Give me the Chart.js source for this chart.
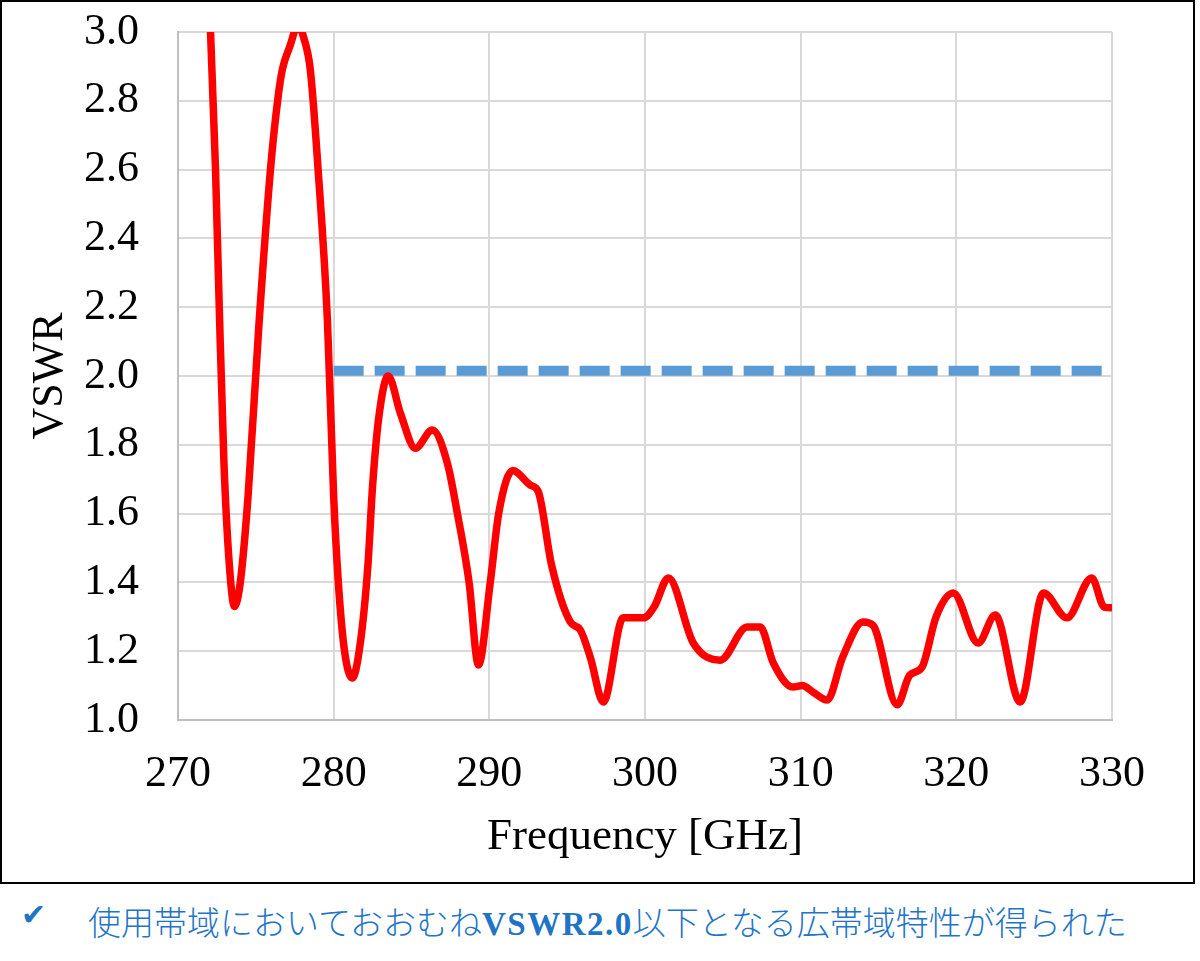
<!DOCTYPE html>
<html>
<head>
<meta charset="utf-8">
<script src="https://cdn.jsdelivr.net/npm/chart.js@4.4.1/dist/chart.umd.min.js"></script>
<style>
  html, body { margin: 0; padding: 0; background: #fff; width: 1200px; height: 961px; overflow: hidden; }
  #frame { position: absolute; left: 0; top: 0; width: 1195px; height: 884px; border: 2px solid #000; box-sizing: border-box; pointer-events: none; }
  #c { position: absolute; left: 0; top: 0; }
  #check { position: absolute; left: 21px; top: 897px; font: 30px "DejaVu Sans"; color: #1f74c6; }
  #caption { position: absolute; left: 88px; top: 899px; font: 300 33px "Noto Sans CJK JP"; color: #1f74c6; white-space: nowrap; line-height: 44px; }
  #caption b { font-family: "Liberation Serif"; font-weight: bold; letter-spacing: 1.5px; }
</style>
</head>
<body>
<canvas id="c" width="1200" height="885"></canvas>
<div id="frame"></div>
<div id="check">✔</div>
<div id="caption">使用帯域においておおむね<b>VSWR2.0</b>以下となる広帯域特性が得られた</div>
<script>
// Frequency [GHz]
const freq = [271.7, 272.09, 272.41, 272.65, 272.95, 273.3, 273.63, 274.0, 274.5, 275.2, 275.94, 276.4, 276.7, 277.2, 277.7, 278.1, 278.5, 279.0, 279.6, 280.0, 280.3, 280.7, 281.2, 281.7, 282.2, 282.5, 282.9, 283.5, 284.3, 285.25, 286.34, 287.3, 287.95, 288.7, 289.3, 290.06, 290.6, 291.5, 292.63, 293.15, 294.0, 295.2, 295.84, 296.5, 297.32, 298.6, 299.9, 300.6, 301.5, 303.1, 304.83, 306.56, 307.4, 308.24, 309.5, 310.1, 310.8, 311.7, 312.7, 314.0, 314.65, 316.2, 317.0, 317.8, 318.7, 319.8, 321.4, 322.5, 324.1, 325.6, 327.1, 328.7, 329.5, 330.0];
// VSWR values
const vswr = [3.6, 3.0, 2.6, 2.2, 1.75, 1.45, 1.33, 1.4, 1.65, 2.15, 2.6, 2.8, 2.89, 2.96, 3.02, 2.98, 2.89, 2.6, 2.16, 1.65, 1.4, 1.2, 1.122, 1.22, 1.45, 1.68, 1.88, 2.0, 1.89, 1.79, 1.843, 1.747, 1.6, 1.4, 1.16, 1.4, 1.6, 1.725, 1.683, 1.663, 1.45, 1.285, 1.262, 1.18, 1.052, 1.297, 1.297, 1.33, 1.413, 1.224, 1.174, 1.27, 1.27, 1.166, 1.096, 1.10, 1.081, 1.058, 1.183, 1.285, 1.275, 1.044, 1.13, 1.154, 1.30, 1.369, 1.224, 1.305, 1.052, 1.369, 1.297, 1.413, 1.328, 1.326];
// Reference level line
const refFreq = [280, 330];
const refVswr = [2.015, 2.015];
// Tick settings
const xTicks = [270, 280, 290, 300, 310, 320, 330];
const yTicks = [1.0, 1.2, 1.4, 1.6, 1.8, 2.0, 2.2, 2.4, 2.6, 2.8, 3.0];

const serif = "'Liberation Serif', 'Times New Roman', serif";

new Chart(document.getElementById('c'), {
  type: 'line',
  data: {
    datasets: [
      {
        label: 'Limit',
        data: refFreq.map((f, i) => ({ x: f, y: refVswr[i] })),
        borderColor: '#5b9bd5',
        borderWidth: 10,
        borderDash: [30, 11],
        borderCapStyle: 'butt',
        pointRadius: 0,
        fill: false,
        order: 2
      },
      {
        label: 'VSWR',
        data: freq.map((f, i) => ({ x: f, y: vswr[i] })),
        borderColor: '#ff0000',
        borderWidth: 7.5,
        pointRadius: 0,
        cubicInterpolationMode: 'monotone',
        fill: false,
        clip: 0,
        order: 1
      }
    ]
  },
  options: {
    responsive: false,
    animation: false,
    devicePixelRatio: 1,
    layout: { padding: { left: 0, top: 32, right: 88, bottom: 0 } },
    plugins: { legend: { display: false }, tooltip: { enabled: false } },
    scales: {
      x: {
        type: 'linear',
        min: 270, max: 330,
        afterBuildTicks: (s) => { s.ticks = xTicks.map(v => ({ value: v })); },
        afterFit: (s) => { s.height = 165; s.paddingLeft = 0; s.paddingRight = 0; },
        ticks: { padding: 28, color: '#000', font: { family: serif, size: 44 }, callback: (v) => String(v) },
        grid: { color: '#d9d9d9', lineWidth: 2, drawTicks: false },
        border: { color: '#bfbfbf', width: 2 },
        title: { display: true, text: 'Frequency [GHz]', color: '#000', font: { family: serif, size: 45 }, padding: { top: 0, bottom: 21 } }
      },
      y: {
        type: 'linear',
        min: 1.0, max: 3.0,
        afterBuildTicks: (s) => { s.ticks = yTicks.map(v => ({ value: v })); },
        afterFit: (s) => { s.width = 178; s.paddingTop = 0; s.paddingBottom = 0; },
        ticks: { padding: 39, color: '#000', font: { family: serif, size: 44 }, callback: (v) => Number(v).toFixed(1) },
        grid: { color: '#d9d9d9', lineWidth: 2, drawTicks: false },
        border: { color: '#bfbfbf', width: 2 },
        title: { display: true, text: 'VSWR', color: '#000', font: { family: serif, size: 44 }, padding: { top: 24, bottom: 0 } }
      }
    }
  }
});
</script>
</body>
</html>
